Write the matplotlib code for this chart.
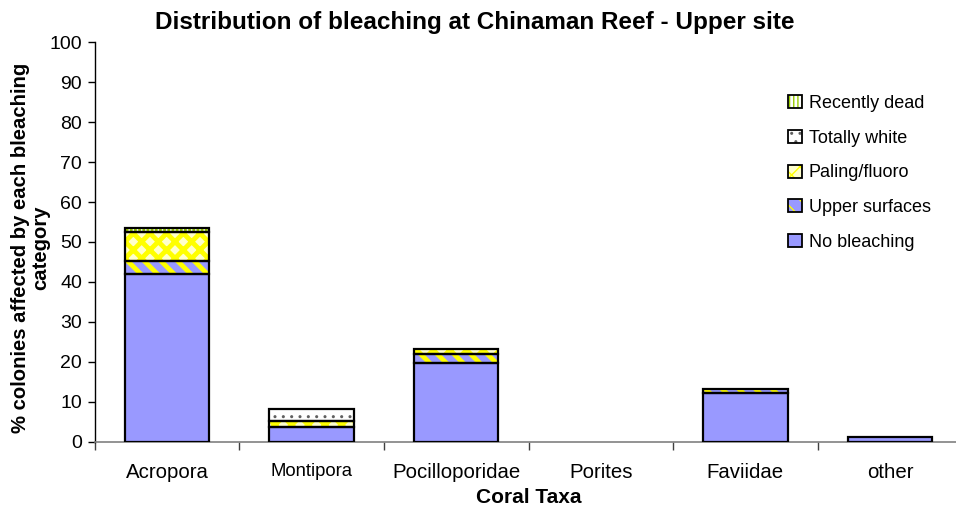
import matplotlib
matplotlib.use("Agg")
import matplotlib.pyplot as plt
import numpy as np
from matplotlib.patches import Patch
from matplotlib.legend_handler import HandlerTuple

plt.rcParams['font.family'] = ['Liberation Sans', 'DejaVu Sans']

categories = ["Acropora", "Montipora", "Pocilloporidae", "Porites", "Faviidae", "other"]
no_bleaching = [41.9, 3.75, 19.8, 0.0, 12.1, 1.3]
upper_surfaces = [3.4, 0.0, 2.2, 0.0, 1.2, 0.0]
paling_fluoro = [7.3, 1.35, 1.2, 0.0, 0.0, 0.0]
totally_white = [0.0, 3.1, 0.0, 0.0, 0.0, 0.0]
recently_dead = [0.8, 0.0, 0.0, 0.0, 0.0, 0.0]

series = [
    ("No bleaching", no_bleaching, dict(face="#9999FF", hcol="#9999FF", hatch=None, hlw=1.0)),
    ("Upper surfaces", upper_surfaces, dict(face="#9999FF", hcol="#FFFF00", hatch="\\\\", hlw=3.5)),
    ("Paling/fluoro", paling_fluoro, dict(face="#FFFFCC", hcol="#FFFF00", hatch="xx", hlw=3.5)),
    ("Totally white", totally_white, dict(face="#FFFFFF", hcol="#606060", hatch="..", hlw=1.0)),
    ("Recently dead", recently_dead, dict(face="#FFFFFF", hcol="#99CC00", hatch="||||", hlw=2.0)),
]

fig = plt.figure(figsize=(9.56, 5.15), dpi=100)
ax = fig.add_axes([94.7 / 956, 1 - 441.7 / 515, 867.6 / 956, (441.7 - 42.3) / 515])

x = np.arange(len(categories))
width = 0.585
bottom = np.zeros(len(categories))
handles = []
for name, vals, st in series:
    vals = np.array(vals, dtype=float)
    lw = np.where(vals > 0, 1.6, 0.0)
    with plt.rc_context({'hatch.linewidth': st["hlw"]}):
        ax.bar(x, vals, width, bottom=bottom, facecolor=st["face"],
               edgecolor=st["hcol"], hatch=st["hatch"], linewidth=0, zorder=2)
        hp = Patch(facecolor=st["face"], edgecolor=st["hcol"], hatch=st["hatch"], linewidth=0)
    ax.bar(x, vals, width, bottom=bottom, fill=False, edgecolor="black",
           linewidth=lw, zorder=3)
    ep = Patch(fill=False, edgecolor="black", linewidth=1.3)
    handles.append(((hp, ep), name))
    bottom = bottom + vals

ax.set_xlim(-0.5, 5.5)
ax.set_ylim(0, 100)
ax.set_yticks(np.arange(0, 101, 10))
ax.tick_params(axis='y', labelsize=14, length=5, width=1, direction='out', pad=4)
ax.set_xticks(x)
ax.set_xticklabels(categories)
ax.tick_params(axis='x', which='major', length=0, labelsize=14.7, pad=15)
for lbl in ax.get_xticklabels():
    if lbl.get_text() == "Montipora":
        lbl.set_fontsize(13.3)
ax.set_xticks(np.arange(-0.5, 6.0, 1.0), minor=True)
ax.tick_params(axis='x', which='minor', length=6, width=1, color="#404040")

for s in ["top", "right"]:
    ax.spines[s].set_visible(False)
ax.spines["left"].set_color("black")
ax.spines["left"].set_linewidth(1.0)
ax.spines["bottom"].set_color("#808080")
ax.spines["bottom"].set_linewidth(1.2)

ax.set_xlabel("Coral Taxa", fontsize=15, fontweight="bold", labelpad=5)
ax.set_ylabel("% colonies affected by each bleaching\ncategory", fontsize=14.6,
              fontweight="bold", linespacing=1.05)
ax.yaxis.set_label_coords((50 - 94.7) / 867.6, (441.7 - 248) / 399.4)
fig.text(0.497, 0.957, "Distribution of bleaching at Chinaman Reef - Upper site",
         ha="center", va="center", fontsize=17.5, fontweight="bold")

rev = handles[::-1]
leg = ax.legend([h for h, _ in rev], [n for _, n in rev],
                handler_map={tuple: HandlerTuple(ndivide=1)},
                loc="upper left", bbox_to_anchor=(779 / 956, 1 - 86 / 515),
                bbox_transform=fig.transFigure, frameon=False, fontsize=13,
                handlelength=0.75, handleheight=0.75, handletextpad=0.4,
                labelspacing=0.98, borderpad=0)

fig.savefig("out.png", dpi=100)
